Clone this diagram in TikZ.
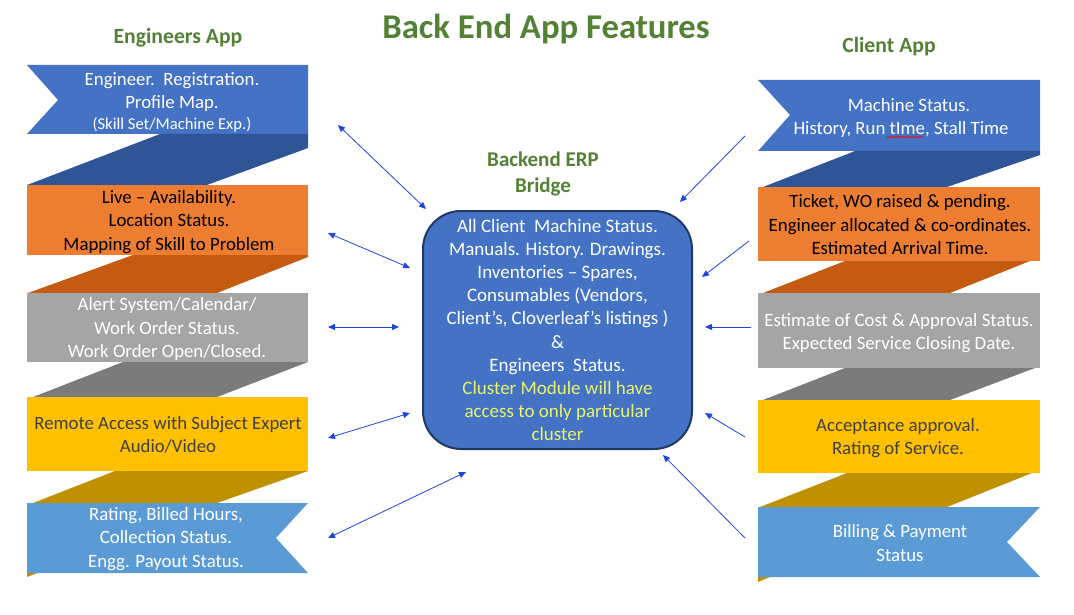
\documentclass[tikz,border=0pt]{standalone}
\usepackage{fontspec}
\setmainfont{Carlito}
\usetikzlibrary{arrows.meta,decorations.pathmorphing}
\definecolor{bandblue}{HTML}{4472C4}
\definecolor{foldblue}{HTML}{2F5597}
\definecolor{bandorange}{HTML}{ED7D31}
\definecolor{foldorange}{HTML}{C55A11}
\definecolor{bandgray}{HTML}{A5A5A5}
\definecolor{foldgray}{HTML}{7B7B7B}
\definecolor{bandyellow}{HTML}{FFC000}
\definecolor{foldyellow}{HTML}{BF9000}
\definecolor{bandlight}{HTML}{5B9BD5}
\definecolor{titlegreen}{HTML}{538135}
\definecolor{boxborder}{HTML}{1F3864}
\definecolor{clusteryellow}{HTML}{E8F56A}
\definecolor{arrowblue}{HTML}{1E46DC}
\definecolor{darktext}{HTML}{404040}
\tikzset{
  bandtext/.style={align=center, font=\fontsize{18.8}{23.5}\selectfont},
  heading/.style={font=\bfseries\fontsize{21.7}{26}\selectfont, text=titlegreen, align=center},
  link/.style={draw=arrowblue, line width=0.8pt, {Triangle[length=7pt,width=6pt]}-{Triangle[length=7pt,width=6pt]}},
  onelink/.style={draw=arrowblue, line width=0.8pt, -{Triangle[length=7pt,width=6pt]}},
  spellmark/.style={draw=red, line width=0.6pt, decorate, decoration={snake, amplitude=0.8pt, segment length=3pt}},
}
\begin{document}
\begin{tikzpicture}[x=1pt,y=-1pt]
\useasboundingbox (0,0) rectangle (1074,615);
% ---------- left column ----------
\fill[bandblue] (27,65) -- (308,65) -- (308,134) -- (27,134) -- (58,100) -- cycle;
\fill[foldblue] (27,185) -- (160,134) -- (308,134) -- (308,148) -- (207,185) -- cycle;
\fill[bandorange] (27,185) rectangle (308,255);
\fill[foldorange] (28,293) -- (133,255) -- (308,255) -- (308,257) -- (217,293) -- cycle;
\fill[bandgray] (27,293) rectangle (308,362);
\fill[foldgray] (33,397) -- (123,362) -- (308,362) -- (217,397) -- cycle;
\fill[bandyellow] (27,397) rectangle (308,471);
\fill[foldyellow] (33,503) -- (115,471) -- (308,471) -- (217,503) -- cycle;
\fill[foldyellow] (27,572) -- (27,577) -- (40,572) -- cycle;
\fill[bandlight] (27,503) -- (308,503) -- (276,538) -- (308,573) -- (27,573) -- cycle;

\node[bandtext, text=white] (l1) at (172,102) {Engineer.\ \ Registration.\\Profile Map.\\[-3pt]{\fontsize{16.6}{19}\selectfont (Skill Set/Machine Exp.)}};
\node[bandtext, text=black] (l2) at (169,222) {Live -- Availability.\\Location Status.\\Mapping of Skill to Problem};
\node[bandtext, text=white] (l3) at (167,329) {Alert System/Calendar/\\Work Order Status.\\Work Order Open/Closed.};
\node[bandtext, text=darktext] (l4) at (168,435) {Remote Access with Subject Expert\\Audio/Video};
\node[bandtext, text=white] (l5) at (166,539) {Rating, Billed Hours,\\Collection Status.\\Engg. Payout Status.};

% ---------- right column ----------
\fill[bandblue] (758,80) -- (1040,80) -- (1040,151) -- (758,151) -- (790,115) -- cycle;
\fill[foldblue] (763,187) -- (855,151) -- (1040,151) -- (1040,155) -- (947,187) -- cycle;
\fill[bandorange] (758,187) rectangle (1040,261);
\fill[foldorange] (763,293) -- (845,261) -- (1030,261) -- (950,293) -- cycle;
\fill[bandgray] (758,293) rectangle (1040,368);
\fill[foldgray] (763,400) -- (845,368) -- (1035,368) -- (950,400) -- cycle;
\fill[bandyellow] (758,400) rectangle (1040,473);
\fill[foldyellow] (760,507) -- (847,473) -- (1032,473) -- (947,507) -- cycle;
\fill[foldyellow] (758,577) -- (758,582) -- (770,577) -- cycle;
\fill[bandlight] (758,507) -- (1040,507) -- (1007,542) -- (1040,577) -- (758,577) -- cycle;

\node[bandtext, text=white] (r1) at (901,118) {\hspace*{16pt}Machine Status.\\History, Run tIme, Stall Time};
\draw[spellmark] (887,137) -- (923,137);
\node[bandtext, text=black] (r2) at (900,225) {Ticket, WO raised \& pending.\\Engineer allocated \& co-ordinates.\\Estimated Arrival Time.};
\node[bandtext, text=white] (r3) at (899,333) {Estimate of Cost \& Approval Status.\\Expected Service Closing Date.};
\node[bandtext, text=darktext] (r4) at (898,438) {Acceptance approval.\\Rating of Service.};
\node[bandtext, text=white] (r5) at (900,543) {Billing \& Payment\\Status};

% ---------- headings ----------
\node[font=\bfseries\fontsize{34.7}{40}\selectfont, text=titlegreen] (title) at (546,29) {Back End App Features};
\node[heading] (engapp) at (178,38) {Engineers App};
\node[heading] (cliapp) at (889,47) {Client App};
\node[heading, font=\bfseries\fontsize{21}{26}\selectfont] (erp) at (543,174) {Backend ERP\\Bridge};

% ---------- center box ----------
\node[draw=boxborder, line width=2pt, fill=bandblue, rounded corners=38pt,
      minimum width=269pt, minimum height=238pt, text=white, bandtext,
      font=\fontsize{19}{23.2}\selectfont] (erpbox) at (557.5,330)
  {All Client\ \ Machine Status.\\Manuals. History. Drawings.\\Inventories -- Spares,\\Consumables (Vendors,\\Client's, Cloverleaf's listings )\\\&\\Engineers\ \ Status.\\
   \textcolor{clusteryellow}{Cluster Module will have}\\\textcolor{clusteryellow}{access to only particular}\\\textcolor{clusteryellow}{cluster}};

% ---------- connector ends ----------
\coordinate (la1) at (338,125); \coordinate (lb1) at (426,209);
\coordinate (la2) at (328,233); \coordinate (lb2) at (410,268);
\coordinate (la3) at (328,327); \coordinate (lb3) at (399,327);
\coordinate (la4) at (328,438); \coordinate (lb4) at (410,413);
\coordinate (la5) at (328,538); \coordinate (lb5) at (466,472);
\coordinate (ra1) at (745,136); \coordinate (rb1) at (680,202);
\coordinate (ra2) at (749,241); \coordinate (rb2) at (702,277);
\coordinate (ra3) at (751,327); \coordinate (rb3) at (705,327);
\coordinate (ra4) at (745,437); \coordinate (rb4) at (705,413);
\coordinate (ra5) at (745,538); \coordinate (rb5) at (663,455);

\draw[link] (la1) -- (lb1);
\draw[link] (la2) -- (lb2);
\draw[link] (la3) -- (lb3);
\draw[link] (la4) -- (lb4);
\draw[link] (la5) -- (lb5);
\draw[onelink] (ra1) -- (rb1);
\draw[onelink] (ra2) -- (rb2);
\draw[onelink] (ra3) -- (rb3);
\draw[onelink] (ra4) -- (rb4);
\draw[onelink] (ra5) -- (rb5);
\end{tikzpicture}
\end{document}
